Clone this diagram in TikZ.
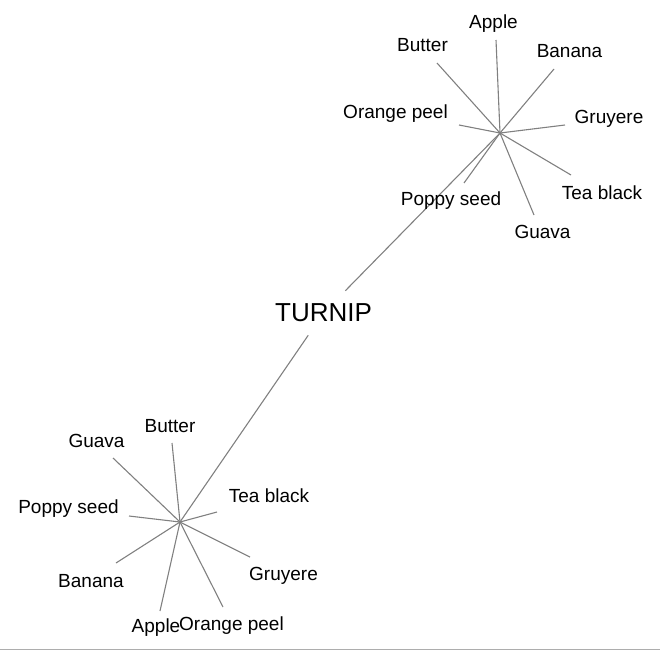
\documentclass[tikz,border=0pt]{standalone}
\usepackage{fontspec}
\setmainfont{Liberation Sans}
\usepackage{xcolor}
\definecolor{spoke}{gray}{0.5}
\definecolor{rule}{gray}{0.68}

\begin{document}
\begin{tikzpicture}[
        x = 1pt, y = -1pt, % pixel grid, y downwards
        semithick, % line style
        spoke/.style = {draw = spoke, line width = 1.1pt},
        leaf/.style = {anchor = base, inner sep = 0pt, font = \fontsize{19}{19}\selectfont},
        root/.style = {inner sep = 0pt, minimum height = 44pt, font = \fontsize{26}{26}\selectfont}
      ]

      \useasboundingbox (0,0) rectangle (660,651);
      \draw[rule, line width = 1pt] (0,649) -- (660,649);

      \node[root] (T) at (323.5,313) {TURNIP};
      \coordinate (A) at (500,133);
      \coordinate (B) at (180,522);

      \path[spoke] (T) edge (A);
      \path[spoke] (T) edge (B);

      % top cluster
      \node[leaf] (A1) at (493.5,28) {Apple};
      \node[leaf] (A2) at (422.5,51) {Butter};
      \node[leaf] (A3) at (569.5,57) {Banana};
      \node[leaf] (A4) at (395.5,118) {Orange peel};
      \node[leaf] (A5) at (609,123) {Gruyere};
      \node[leaf] (A6) at (602,199) {Tea black};
      \node[leaf] (A7) at (451,205) {Poppy seed};
      \node[leaf] (A8) at (542.5,238) {Guava};

      \coordinate (a1) at (496,40);
      \coordinate (a2) at (437,63);
      \coordinate (a3) at (554,69);
      \coordinate (a4) at (459,125);
      \coordinate (a5) at (565,125);
      \coordinate (a6) at (571,175);
      \coordinate (a7) at (464,183);
      \coordinate (a8) at (534,215);

      \path[spoke] (A) edge (a1) edge (a2) edge (a3) edge (a4)
                       edge (a5) edge (a6) edge (a7) edge (a8);

      % bottom cluster
      \node[leaf] (B1) at (170,432) {Butter};
      \node[leaf] (B2) at (96.5,447) {Guava};
      \node[leaf] (B3) at (269,502) {Tea black};
      \node[leaf] (B4) at (68.5,513) {Poppy seed};
      \node[leaf] (B5) at (91,587) {Banana};
      \node[leaf] (B6) at (283.5,580) {Gruyere};
      \node[leaf] (B7) at (156,632) {Apple};
      \node[leaf] (B8) at (231.5,630) {Orange peel};

      \coordinate (b1) at (172,443);
      \coordinate (b2) at (113,458);
      \coordinate (b3) at (217,512);
      \coordinate (b4) at (129,516);
      \coordinate (b5) at (116,563);
      \coordinate (b6) at (250,557);
      \coordinate (b7) at (160,611);
      \coordinate (b8) at (223,607);

      \path[spoke] (B) edge (b1) edge (b2) edge (b3) edge (b4)
                       edge (b5) edge (b6) edge (b7) edge (b8);
\end{tikzpicture}
\end{document}
